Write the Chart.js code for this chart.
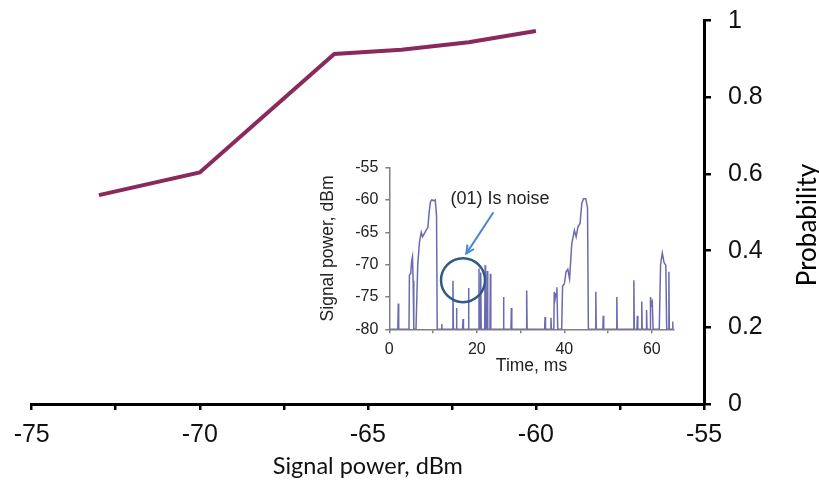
<!DOCTYPE html>
<html>
<head>
<meta charset="utf-8">
<script src="https://cdn.jsdelivr.net/npm/chart.js@4/dist/chart.umd.min.js"></script>
<style>
  html, body { margin: 0; padding: 0; background: #fff; }
  #wrap { position: relative; width: 819px; height: 494px; overflow: hidden; }
  #mainChart { position: absolute; left: 0; top: 0; }
  #insetChart { position: absolute; left: 300px; top: 140px; }
</style>
</head>
<body>
<div id="wrap">
  <canvas id="mainChart" width="819" height="494"></canvas>
  <canvas id="insetChart" width="390" height="250"></canvas>
</div>
<script>
// main curve: detection probability vs signal power
var signalPower = [-73, -70, -66, -64, -62, -60];
var probability = [0.545, 0.604, 0.913, 0.924, 0.944, 0.973];

// inset trace: signal power over time (ms, dBm)
var insetTime = [
  0, 1.95, 2.05, 2.15,
  4.5, 4.6, 4.9, 5.1, 5.3, 5.45, 5.6,
  6.1, 6.5, 6.9, 7.3, 7.6, 8.0, 8.5, 8.8, 9.1, 9.4, 9.7, 10.2, 10.5, 10.8, 10.95,
  11.95, 12.0, 12.05,
  14.45, 14.55, 14.65,
  15.25, 15.35, 15.45,
  16.75, 16.85, 16.95,
  18.0, 18.1, 18.2,
  20.4, 20.5, 20.6,
  20.8, 20.9, 21.0,
  21.8, 21.9, 22.0,
  22.3, 22.4, 22.5,
  23.0, 23.1, 23.2,
  26.0, 26.1, 26.2,
  27.8, 27.9, 28.0,
  31.3, 31.4, 31.5,
  35.5, 35.6, 35.7,
  36.85, 36.95, 37.05,
  37.6, 37.7, 37.9, 38.1, 38.3, 38.5,
  39.4, 39.6, 40.0, 40.4, 40.8, 41.2, 41.7, 42.3, 42.7, 43.1, 43.6, 44.0, 44.4, 44.9, 45.3, 45.5,
  47.1, 47.2, 47.3,
  48.8, 48.9, 49.0,
  51.9, 52.0, 52.1,
  55.8, 55.9, 56.0,
  56.6, 56.7, 56.8,
  57.6, 57.7, 57.8,
  58.7, 58.8, 58.9,
  59.6, 59.7, 59.9, 60.1, 60.3,
  61.7, 62.0, 62.4, 62.8, 63.2, 63.4,
  63.8, 63.9, 64.0,
  64.7, 64.8, 64.9, 65
];
var insetPower = [
  -80, -80, -76.0, -80,
  -80, -71.6, -71.4, -69.5, -68.8, -72.5, -80,
  -80, -70.0, -66.5, -65.0, -65.7, -65.2, -64.6, -64.3, -62.0, -60.3, -60.0, -60.1, -60.0, -62.5, -80,
  -80, -79.2, -80,
  -80, -72.5, -80,
  -80, -76.7, -80,
  -80, -78.4, -80,
  -80, -73.6, -80,
  -80, -70.6, -80,
  -80, -71.2, -80,
  -80, -70.1, -80,
  -80, -71.0, -80,
  -80, -71.4, -80,
  -80, -75.0, -80,
  -80, -76.7, -80,
  -80, -74.0, -80,
  -80, -78.1, -80,
  -80, -78.2, -80,
  -80, -74.2, -75.3, -74.5, -73.5, -80,
  -80, -73.3, -73.0, -71.1, -70.7, -72.2, -66.8, -64.7, -65.7, -64.2, -63.6, -60.5, -59.8, -59.8, -61.2, -80,
  -80, -74.2, -80,
  -80, -77.9, -80,
  -80, -75.0, -80,
  -80, -72.4, -80,
  -80, -77.9, -80,
  -80, -75.7, -80,
  -80, -77.0, -80,
  -80, -75.0, -76.2, -75.8, -80,
  -80, -70.0, -68.2, -69.7, -70.1, -80,
  -80, -71.1, -80,
  -80, -78.8, -80, -80
];

var xTicksMain = [-75, -70, -65, -60, -55];
var yTicksMain = [0, 0.2, 0.4, 0.6, 0.8, 1];

// note inside the inset, in data units of the inset
var note = {
  text: '(01) Is noise',
  textAt: [25.3, -59.8],
  arrowFrom: [23.8, -61.9],
  arrowTo: [17.6, -68.3],
  circleAt: [16.85, -72.4],
  circleRadius: 22
};

var mainFont = "'Liberation Sans', Arial, sans-serif";
var titleFont = "Lato, 'Open Sans', sans-serif";

var probabilityTitle = {
  id: 'probabilityTitle',
  afterDraw: function(chart) {
    var ctx = chart.ctx;
    ctx.save();
    ctx.translate(808, 225);
    ctx.rotate(-Math.PI / 2);
    ctx.fillStyle = '#000';
    ctx.font = '26px ' + titleFont;
    ctx.textAlign = 'center';
    ctx.textBaseline = 'middle';
    ctx.fillText('Probability', 0, 0);
    ctx.restore();
  }
};

var whiteBg = {
  id: 'whiteBg',
  beforeDraw: function(chart) {
    var ctx = chart.ctx;
    ctx.save();
    ctx.fillStyle = '#fff';
    ctx.fillRect(0, 0, chart.width, chart.height);
    ctx.restore();
  }
};

new Chart(document.getElementById('mainChart').getContext('2d'), {
  type: 'line',
  data: {
    datasets: [{
      data: signalPower.map(function(p, i) { return {x: p, y: probability[i]}; }),
      borderColor: '#8a2a5c',
      borderWidth: 4,
      pointRadius: 0,
      tension: 0,
      fill: false
    }]
  },
  options: {
    responsive: false,
    animation: false,
    layout: { padding: { left: 31.7, top: 20.7, right: 0, bottom: 0 } },
    plugins: { legend: { display: false }, tooltip: { enabled: false } },
    scales: {
      x: {
        type: 'linear',
        min: -75, max: -55,
        afterFit: function(scale) { scale.height = 90; },
        border: { color: '#000', width: 3 },
        grid: { drawOnChartArea: false, color: '#000', lineWidth: 2.5, tickLength: 6 },
        ticks: {
          stepSize: 2.5,
          padding: 10,
          color: '#111',
          font: { family: mainFont, size: 25 },
          callback: function(v) { return xTicksMain.indexOf(v) >= 0 ? v : ''; }
        },
        title: {
          display: true,
          text: 'Signal power, dBm',
          color: '#111',
          font: { family: titleFont, size: 23.5 },
          padding: { top: 4, bottom: 13 }
        }
      },
      y: {
        type: 'linear',
        position: 'right',
        min: 0, max: 1,
        afterFit: function(scale) {
          scale.width = 115;
          scale.paddingTop = 0;
          scale.paddingBottom = 0;
        },
        border: { color: '#000', width: 3 },
        grid: { drawOnChartArea: false, color: '#000', lineWidth: 2.5, tickLength: 7 },
        ticks: {
          stepSize: 0.2,
          padding: 17,
          color: '#111',
          font: { family: mainFont, size: 25 },
          callback: function(v) {
            var r = Math.round(v * 10) / 10;
            return yTicksMain.indexOf(r) >= 0 ? String(r) : '';
          }
        }
      }
    }
  },
  plugins: [whiteBg, probabilityTitle]
});

var noteDrawer = {
  id: 'noteDrawer',
  afterDatasetsDraw: function(chart) {
    var ctx = chart.ctx, xs = chart.scales.x, ys = chart.scales.y;
    var px = function(p) { return [xs.getPixelForValue(p[0]), ys.getPixelForValue(p[1])]; };
    var c = px(note.circleAt);
    ctx.save();
    ctx.strokeStyle = '#2f5a88';
    ctx.lineWidth = 2.5;
    ctx.beginPath();
    ctx.arc(c[0], c[1], note.circleRadius, 0, Math.PI * 2);
    ctx.stroke();

    var a = px(note.arrowFrom), b = px(note.arrowTo);
    ctx.strokeStyle = '#4a88cc';
    ctx.lineWidth = 2;
    ctx.beginPath();
    ctx.moveTo(a[0], a[1]);
    ctx.lineTo(b[0], b[1]);
    ctx.stroke();
    var ang = Math.atan2(b[1] - a[1], b[0] - a[0]);
    ctx.beginPath();
    ctx.moveTo(b[0] - 9 * Math.cos(ang - 0.45), b[1] - 9 * Math.sin(ang - 0.45));
    ctx.lineTo(b[0], b[1]);
    ctx.lineTo(b[0] - 9 * Math.cos(ang + 0.45), b[1] - 9 * Math.sin(ang + 0.45));
    ctx.stroke();

    var t = px(note.textAt);
    ctx.fillStyle = '#222';
    ctx.font = '18px ' + mainFont;
    ctx.textAlign = 'center';
    ctx.textBaseline = 'middle';
    ctx.fillText(note.text, t[0], t[1]);
    ctx.restore();
  }
};

new Chart(document.getElementById('insetChart').getContext('2d'), {
  type: 'line',
  data: {
    datasets: [{
      data: insetTime.map(function(t, i) { return {x: t, y: insetPower[i]}; }),
      borderColor: '#6a6ab0',
      borderWidth: 1.5,
      pointRadius: 0,
      tension: 0,
      fill: false
    }]
  },
  options: {
    responsive: false,
    animation: false,
    layout: { padding: { left: 0, top: 27.6, right: 16.3, bottom: 0 } },
    plugins: { legend: { display: false }, tooltip: { enabled: false } },
    scales: {
      x: {
        type: 'linear',
        min: 0, max: 65,
        afterFit: function(scale) { scale.height = 60.7; },
        border: { color: '#808080', width: 1.5 },
        grid: { drawOnChartArea: false, color: '#808080', lineWidth: 1.5, tickLength: 4 },
        ticks: {
          stepSize: 10,
          includeBounds: false,
          padding: 7,
          color: '#222',
          font: { family: mainFont, size: 16 },
          callback: function(v) { return v % 20 === 0 ? v : ''; }
        },
        title: {
          display: true,
          text: 'Time, ms',
          color: '#222',
          font: { family: mainFont, size: 17.5 },
          padding: { top: 2, bottom: 13 }
        }
      },
      y: {
        type: 'linear',
        min: -80, max: -55,
        afterFit: function(scale) { scale.width = 89.3; },
        border: { color: '#808080', width: 1.5 },
        grid: { drawOnChartArea: false, color: '#808080', lineWidth: 1.5, tickLength: 4 },
        ticks: {
          stepSize: 2.5,
          padding: 7,
          color: '#222',
          font: { family: mainFont, size: 16 },
          callback: function(v) { return v % 5 === 0 ? v : ''; }
        },
        title: {
          display: true,
          text: 'Signal power, dBm',
          color: '#222',
          font: { family: mainFont, size: 17.5 },
          padding: { top: 18, bottom: 0 }
        }
      }
    }
  },
  plugins: [noteDrawer]
});
</script>
</body>
</html>
